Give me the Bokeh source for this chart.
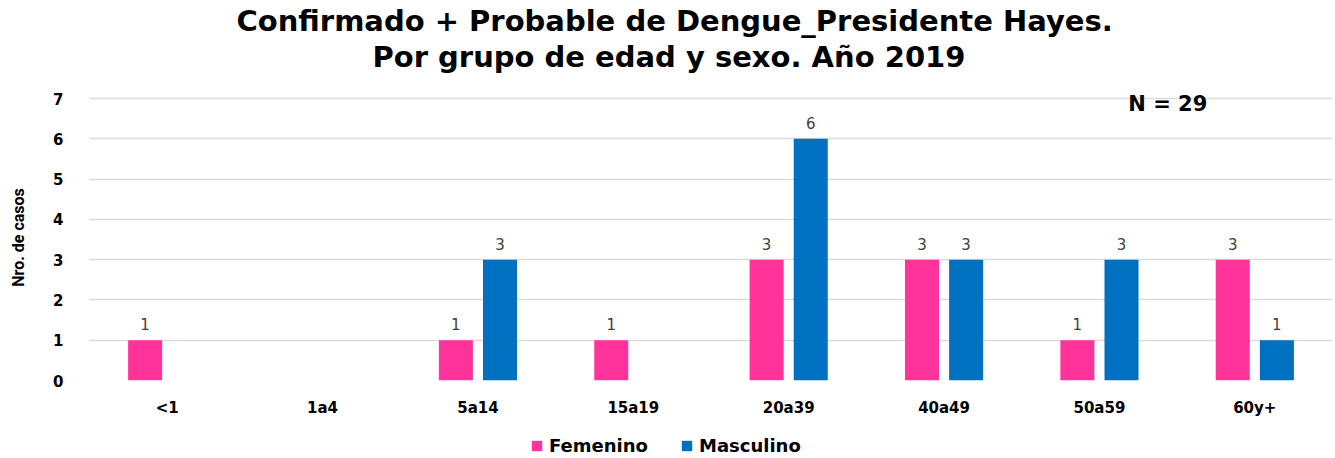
from bokeh.plotting import figure
from bokeh.layouts import column
from bokeh.models import ColumnDataSource, FactorRange, LabelSet, Label, Legend, LegendItem, Title
from bokeh.core.properties import value
from bokeh.transform import dodge
from bokeh.embed import file_html
from bokeh.resources import INLINE

ages = ["<1", "1a4", "5a14", "15a19", "20a39", "40a49", "50a59", "60y+"]
femenino = [1, 0, 1, 1, 3, 3, 1, 3]
masculino = [0, 0, 3, 0, 6, 3, 3, 1]
title_lines = ["Confirmado + Probable de Dengue_Presidente Hayes.", "Por grupo de edad y sexo. Año 2019"]
total_label = "N = 29"
series_names = ["Femenino", "Masculino"]

PINK = "#FF3399"
BLUE = "#0070C0"

src = ColumnDataSource(dict(
    age=ages, fem=femenino, mas=masculino,
    fem_txt=[str(v) if v > 0 else "" for v in femenino],
    mas_txt=[str(v) if v > 0 else "" for v in masculino],
))

p = figure(x_range=FactorRange(*ages), y_range=(0, 7.1), width=1334, height=430,
           output_backend="svg", toolbar_location=None,
           min_border_left=89, min_border_right=2, min_border_top=94, min_border_bottom=50)
p.outline_line_color = None

r1 = p.vbar(x=dodge("age", -0.142, range=p.x_range), top="fem", width=0.219, source=src,
            fill_color=PINK, line_color=None)
r2 = p.vbar(x=dodge("age", 0.142, range=p.x_range), top="mas", width=0.219, source=src,
            fill_color=BLUE, line_color=None)

for col, off in (("fem", -0.142), ("mas", 0.142)):
    p.add_layout(LabelSet(x=dodge("age", off, range=p.x_range), y=col, text=col + "_txt", source=src,
                          text_align="center", text_baseline="bottom", y_offset=10,
                          text_font=value("DejaVu Sans"), text_font_size="15px", text_color="#404040"))

p.add_layout(Label(x=6.94, y=6.87, text=total_label, text_align="center", text_baseline="middle",
                   text_font="DejaVu Sans", text_font_style="bold", text_font_size="21px",
                   text_color="#000000"))

# Titles (first added is closest to plot); a blank spacer keeps them off the frame
spacer = Title(text=" ", text_font_size="10px", standoff=8)
t2 = Title(text=title_lines[1], align="left", offset=283, text_font="DejaVu Sans",
           text_font_style="bold", text_font_size="29px", text_color="#000000", standoff=0)
t1 = Title(text=title_lines[0], align="left", offset=147, text_font="DejaVu Sans",
           text_font_style="bold", text_font_size="29px", text_color="#000000", standoff=0)
p.add_layout(spacer, "above")
p.add_layout(t2, "above")
p.add_layout(t1, "above")

p.yaxis.axis_label = "Nro. de casos"
p.yaxis.axis_label_text_font = "Roboto"
p.yaxis.axis_label_text_font_style = "bold"
p.yaxis.axis_label_text_font_size = "16px"
p.yaxis.axis_label_text_color = "#000000"
p.yaxis.axis_label_standoff = 22
p.yaxis.ticker = [0, 1, 2, 3, 4, 5, 6, 7]

for ax in (p.xaxis, p.yaxis):
    ax.axis_line_color = None
    ax.major_tick_line_color = None
    ax.minor_tick_line_color = None
    ax.major_label_text_font = "DejaVu Sans"
    ax.major_label_text_font_style = "bold"
    ax.major_label_text_font_size = "15px"
    ax.major_label_text_color = "#000000"

p.yaxis.major_label_standoff = 20
p.xaxis.major_label_standoff = 12

p.xgrid.grid_line_color = None
p.ygrid.grid_line_color = "#DCDCDC"
p.ygrid.grid_line_width = 1.5
p.x_range.range_padding = 0

# Legend strip below the chart (hidden stand-in renderers supply the legend swatches)
pl = figure(width=1334, height=26, x_range=(0, 1), y_range=(0, 1), output_backend="svg",
            toolbar_location=None, x_axis_location=None, y_axis_location=None,
            min_border_left=0, min_border_right=0, min_border_top=0, min_border_bottom=0)
pl.outline_line_color = None
pl.grid.visible = False
lr1 = pl.vbar(x="fem", top="fem", width=0.1, source=src, fill_color=PINK, line_color=None, visible=False)
lr2 = pl.vbar(x="mas", top="mas", width=0.1, source=src, fill_color=BLUE, line_color=None, visible=False)
legend = Legend(items=[LegendItem(label=series_names[0], renderers=[lr1]),
                       LegendItem(label=series_names[1], renderers=[lr2])],
                orientation="horizontal", location=(441, 0),
                border_line_color=None, background_fill_alpha=0,
                inactive_fill_alpha=0,
                label_text_font="DejaVu Sans", label_text_font_style="bold",
                label_text_font_size="18px", label_text_color="#000000",
                glyph_width=13, glyph_height=13, label_width=105,
                spacing=26, label_standoff=6, padding=0, margin=0)
pl.add_layout(legend, "center")

layout = column(p, pl, spacing=0)
open("out.html", "w").write(file_html(layout, INLINE))
